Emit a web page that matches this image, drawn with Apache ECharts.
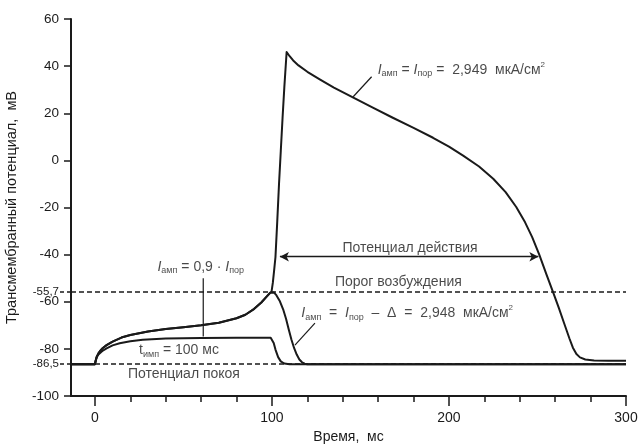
<!DOCTYPE html>
<html>
<head>
<meta charset="utf-8">
<script src="https://cdn.jsdelivr.net/npm/echarts@6/dist/echarts.min.js"></script>
<style>
html, body { margin: 0; padding: 0; background: #fff; }
#chart { width: 640px; height: 445px; }
</style>
</head>
<body>
<div id="chart"></div>
<script>
// axis ranges and reference levels
const xMin = -13.5
const xMax = 300
const restV = -86.5
const thresholdV = -55.7
const xMajor = [0, 100, 200, 300]
const xMinor = [20, 40, 60, 80, 120, 140, 160, 180, 220, 240, 260, 280]
const yTicks = [-100, -80, -60, -40, -20, 0, 20, 40, 60]
const ySpecial = [restV, thresholdV]

// I = I_пор = 2,949 (action potential)
const apT = [-13.5, 0, 0.5, 1, 2, 2.8, 4.5, 6.6, 10, 15, 20, 30, 40, 50, 60, 70, 80, 85, 90, 94, 97, 99.8, 100.5, 101.2, 102, 103, 104, 105, 106, 107, 108.3, 110, 112, 115, 120, 127, 135, 146, 157, 168, 180, 191, 200, 208, 217, 225, 232, 238, 243, 247, 251, 255, 259, 262, 265, 268, 270, 272, 274, 277, 282, 290, 300]
const apV = [-86.5, -86.5, -84.8, -83.4, -81.9, -81.0, -79.6, -78.4, -76.9, -75.2, -74.1, -72.6, -71.6, -70.8, -70.0, -68.9, -67.0, -65.5, -63.0, -60.3, -57.8, -55.6, -52, -47, -41, -26, -10, 4, 18, 31, 46, 44.2, 42.4, 40.3, 37.6, 34.4, 30.9, 26.6, 22.4, 18.2, 13.8, 9.6, 5.8, 2.0, -2.6, -7.8, -13.5, -19.8, -26.3, -32.6, -40, -48.3, -56.3, -62.5, -69, -75.5, -79.5, -82.2, -83.6, -84.5, -84.9, -85, -85]

// I = I_пор - Δ = 2,948
const subT = [-13.5, 0, 0.5, 1, 2, 2.8, 4.5, 6.6, 10, 15, 20, 30, 40, 50, 60, 70, 80, 85, 90, 94, 97, 99, 100, 101.2, 102.5, 104.5, 106.5, 108, 109.5, 111, 112.5, 114, 115.5, 117, 118.5, 120, 300]
const subV = [-86.5, -86.5, -84.8, -83.4, -81.9, -81.0, -79.6, -78.4, -76.9, -75.2, -74.1, -72.6, -71.6, -70.8, -70.0, -68.9, -67.0, -65.5, -63.0, -60.3, -57.8, -56.2, -55.7, -56.1, -57.2, -59.8, -63.6, -67.3, -71.8, -76.0, -79.6, -82.4, -84.5, -85.7, -86.3, -86.5, -86.5]

// I = 0,9 · I_пор
const lowT = [-13.5, 0, 0.5, 1, 2, 2.8, 4.5, 6.6, 10, 14, 20, 27, 40, 60, 80, 99.3, 100.3, 101, 102, 103.5, 105, 107, 110, 300]
const lowV = [-86.5, -86.5, -84.9, -83.6, -82.4, -81.8, -80.7, -79.8, -78.5, -77.6, -76.8, -76.1, -75.6, -75.4, -75.3, -75.3, -75.9, -77.5, -80.3, -83.5, -85.3, -86.2, -86.5, -86.5]

// action potential duration arrow
const apSpan = [104.5, 250.5]
const apSpanV = -40.9

const FONT = '"Liberation Sans", Arial, sans-serif'
const INK = '#1a1a1a'

const zip = (t, v) => t.map((x, i) => [x, v[i]])
const fmt = v => String(v).replace('.', ',')

const rich = {
    n: { fontSize: 14, fontFamily: FONT, color: INK },
    i: { fontSize: 14, fontFamily: FONT, fontStyle: 'italic', color: INK },
    s: { fontSize: 9, fontFamily: FONT, color: INK, padding: [8, 0, 0, 0] },
    p: { fontSize: 8, fontFamily: FONT, color: INK, padding: [0, 0, 10, 0] },
}

const notes = [
    { at: [207, 38.4], text: '{i|I}{s|амп}{n| = }{i|I}{s|пор}{n| =  2,949  мкА/см}{p|2}' },
    { at: [59.8, -45.1], text: '{i|I}{s|амп}{n| = 0,9 · }{i|I}{s|пор}' },
    { at: [47.5, -80.5], text: '{n|t}{s|имп}{n| = 100 мс}' },
    { at: [50.3, -90.6], text: '{n|Потенциал покоя}' },
    { at: [178, -37.3], text: '{n|Потенциал действия}' },
    { at: [171.4, -51.6], text: '{n|Порог возбуждения}' },
    { at: [176.4, -64.9], text: '{i|I}{s|амп}{n|  =  }{i|I}{s|пор}{n|  –  Δ  =  2,948  мкА/см}{p|2}' },
]

const leaders = [
    [[156.3, 35.5], [145.9, 27]],
    [[61.2, -50], [61.2, -74.8]],
    [[124.3, -69.1], [113, -78.4]],
]

const myChart = echarts.init(document.getElementById('chart'), null, { renderer: 'canvas' })

const curve = (name, t, v) => ({
    name,
    type: 'line',
    data: zip(t, v),
    symbol: 'none',
    smooth: false,
    lineStyle: { color: INK, width: 2, join: 'round' },
    z: 5,
    silent: true,
})

const option = {
    backgroundColor: '#fff',
    animation: false,
    grid: { left: 71, right: 14, top: 19, bottom: 49, outerBoundsMode: 'none' },
    xAxis: [
        {
            type: 'value',
            min: xMin,
            max: xMax,
            axisLine: { onZero: false, lineStyle: { color: INK, width: 2 } },
            axisTick: { customValues: xMajor, length: 10, lineStyle: { color: INK, width: 1.5 } },
            axisLabel: { customValues: xMajor, margin: 15, fontSize: 14, fontFamily: FONT, color: INK },
            splitLine: { show: false },
            name: 'Время,  мс',
            nameLocation: 'middle',
            nameGap: 31,
            nameTextStyle: { fontSize: 14, fontFamily: FONT, color: INK },
        },
        {
            type: 'value',
            min: xMin,
            max: xMax,
            position: 'bottom',
            axisLine: { show: false, onZero: false },
            axisTick: { customValues: xMinor, length: 6, lineStyle: { color: INK, width: 1.5 } },
            axisLabel: { show: false },
            splitLine: { show: false },
        },
    ],
    yAxis: [
        {
            type: 'value',
            min: -100,
            max: 60,
            interval: 20,
            axisLine: { show: true, onZero: false, lineStyle: { color: INK, width: 2 } },
            axisTick: { show: true, customValues: yTicks, length: 7, lineStyle: { color: INK, width: 1.5 } },
            axisLabel: {
                customValues: yTicks.concat(ySpecial),
                margin: 12,
                fontFamily: FONT,
                fontSize: 13.5,
                color: INK,
                formatter: v => ySpecial.includes(v) ? `{sm|${fmt(v)}}` : fmt(v),
                rich: { sm: { fontSize: 11.5, fontFamily: FONT, color: INK } },
            },
            splitLine: { show: false },
            name: 'Трансмембранный потенциал,  мВ',
            nameLocation: 'middle',
            nameGap: 52,
            nameTextStyle: { fontSize: 14.5, fontFamily: FONT, color: INK },
        },
        {
            type: 'value',
            min: -100,
            max: 60,
            position: 'left',
            axisLine: { show: false, onZero: false },
            axisTick: { show: true, customValues: ySpecial, length: 11, lineStyle: { color: INK, width: 1.5, type: [4, 3] } },
            axisLabel: { show: false },
            splitLine: { show: false },
        },
    ],
    series: [
        {
            name: 'levels',
            type: 'line',
            data: [],
            silent: true,
            z: 2,
            markLine: {
                silent: true,
                symbol: 'none',
                label: { show: false },
                lineStyle: { color: INK, width: 1.5, type: [5, 3] },
                data: [{ yAxis: thresholdV }, { yAxis: restV }],
            },
        },
        curve('low', lowT, lowV),
        curve('sub', subT, subV),
        curve('ap', apT, apV),
        {
            name: 'span',
            type: 'line',
            data: [],
            silent: true,
            markLine: {
                silent: true,
                symbol: ['arrow', 'arrow'],
                symbolSize: [7, 9],
                label: { show: false },
                lineStyle: { color: INK, width: 1.3, type: 'solid' },
                data: [[{ coord: [apSpan[0], apSpanV] }, { coord: [apSpan[1], apSpanV] }]],
            },
        },
        ...leaders.map((pts, k) => ({
            name: 'leader' + k,
            type: 'line',
            data: pts,
            symbol: 'none',
            silent: true,
            lineStyle: { color: INK, width: 1.2 },
        })),
        {
            name: 'notes',
            type: 'scatter',
            symbolSize: 0,
            silent: true,
            z: 10,
            data: notes.map(n => ({
                value: n.at,
                label: {
                    show: true,
                    position: 'inside',
                    formatter: n.text,
                    rich,
                },
            })),
        },
    ],
}

myChart.setOption(option)
window.addEventListener('resize', () => myChart.resize())
</script>
</body>
</html>
